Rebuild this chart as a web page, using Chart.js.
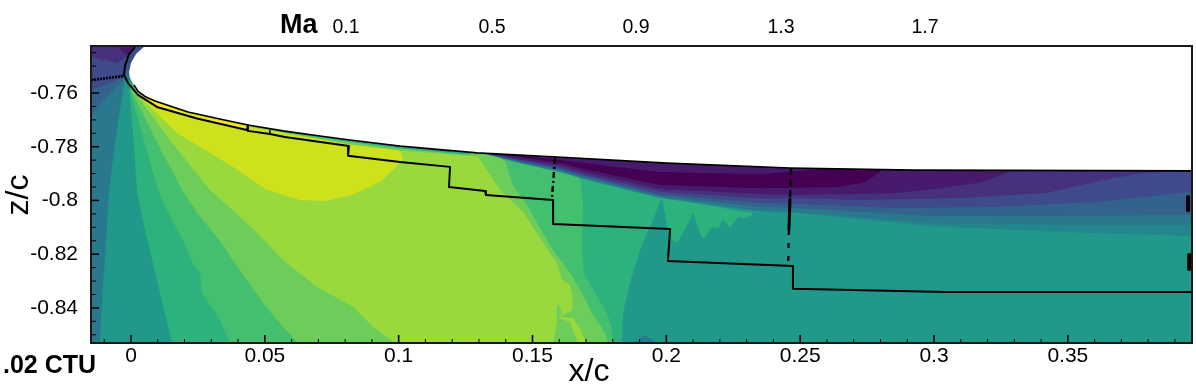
<!DOCTYPE html>
<html>
<head>
<meta charset="utf-8">
<style>
  body { margin: 0; background: #fff; }
  canvas { display: block; }
</style>
<script src="https://cdn.jsdelivr.net/npm/chart.js@4/dist/chart.umd.min.js"></script>
</head>
<body>
<canvas id="myChart" width="1196" height="384"></canvas>
<script>
// axis ranges and ticks (x/c, z/c)
const xRange = [-0.01494, 0.39638];
const zRange = [-0.85305, -0.74251];
const xMajor = [0, 0.05, 0.1, 0.15, 0.2, 0.25, 0.3, 0.35];
const xMinor = [-0.01, 0.01, 0.02, 0.03, 0.04, 0.06, 0.07, 0.08, 0.09, 0.11, 0.12, 0.13, 0.14, 0.16, 0.17, 0.18, 0.19, 0.21, 0.22, 0.23, 0.24, 0.26, 0.27, 0.28, 0.29, 0.31, 0.32, 0.33, 0.34, 0.36, 0.37, 0.38, 0.39];
const zMajor = [-0.84, -0.82, -0.8, -0.78, -0.76];
const zMinor = [-0.85, -0.845, -0.835, -0.83, -0.825, -0.815, -0.81, -0.805, -0.795, -0.79, -0.785, -0.775, -0.77, -0.765, -0.755, -0.75, -0.745];
const maLabels = ["0.1", "0.5", "0.9", "1.3", "1.7"];

// contour levels, darkest to brightest
const C0 = "#440154", C1 = "#481a6c", C2 = "#47307e", C3 = "#3f4a8a", C4 = "#33638d", C5 = "#2a788e", C5b = "#23868d";
const BASE = "#20998a", C6 = "#2db27d", C7 = "#44bf70", C8 = "#6ccd5a", C9 = "#9ad93d", C10 = "#cde11d", C11 = "#fde725";

// contour outlines, [x/c, z/c]
const fullField = [[-0.01494, -0.85305], [0.39638, -0.85305], [0.39638, -0.74251], [-0.01494, -0.74251]];
const leftTeal = [[-.0149, -.8530], [-.0116, -.8530], [-.0112, -.8434], [-.0093, -.8147], [-.0082, -.7961], [-.0060, -.7790], [-.0022, -.7540], [-.0022, -.7425], [-.0149, -.7425]];
const leftBlue = [[-.0149, -.7682], [-.0022, -.7540], [-.0022, -.7425], [-.0149, -.7425]];
const leftIndigo = [[-.0149, -.7589], [-.0022, -.7540], [-.0022, -.7425], [-.0149, -.7425]];
const leftViolet = [[-.0149, -.7425], [-.0149, -.7466], [-.0052, -.7488], [-.0011, -.7466], [.0015, -.7425]];
const leftPurple = [[-.0049, -.7425], [-.0026, -.7451], [-.0007, -.7462], [.0056, -.7425]];

const fanC6 = [[.0153, -.8530], [.0097, -.8296], [.0052, -.8110], [.0022, -.7961], [.0011, -.7790], [-.0007, -.7589], [-.0004, -.7552], [.1005, -.7797], [.1304, -.7812], [.1603, -.7879], [.1689, -.7916], [.1976, -.7987], [.2320, -.8047], [.2320, -.8054], [.2294, -.8065], [.2268, -.8061], [.2238, -.8103], [.2212, -.8069], [.2193, -.8103], [.2171, -.8099], [.2137, -.8143], [.2126, -.8121], [.2100, -.8047], [.2062, -.8121], [.2040, -.8158], [.2021, -.8147], [.2003, -.8099], [.1984, -.7991], [.1902, -.8184], [.1864, -.8307], [.1838, -.8419], [.1834, -.8530]];
const bumpC5 = [[.1875, -.8530], [.1920, -.8501], [.1965, -.8530]];
const fanC7 = [[.0370, -.8530], [.0332, -.8445], [.0265, -.8344], [.0258, -.8270], [.0228, -.8229], [.0194, -.8147], [.0134, -.8036], [.0101, -.7961], [.0052, -.7790], [-.0004, -.7589], [-.0004, -.7552], [.1005, -.7797], [.1341, -.7812], [.1397, -.7849], [.1677, -.7913], [.1689, -.8006], [.1685, -.8184], [.1692, -.8270], [.1734, -.8344], [.1778, -.8419], [.1797, -.8475], [.1801, -.8530]];
const fanC8 = [[.0624, -.8530], [.0545, -.8445], [.0493, -.8382], [.0407, -.8259], [.0321, -.8136], [.0247, -.8047], [.0191, -.7961], [.0101, -.7790], [0, -.7589], [0, -.7552], [.1005, -.7797], [.1341, -.7820], [.1397, -.7853], [.1427, -.7942], [.1479, -.8017], [.1517, -.8084], [.1577, -.8184], [.1640, -.8270], [.1685, -.8344], [.1722, -.8419], [.1771, -.8493], [.1782, -.8530]];
const fanC9 = [[.0986, -.8530], [.0904, -.8471], [.0829, -.8396], [.0695, -.8322], [.0568, -.8222], [.0471, -.8121], [.0381, -.8036], [.0295, -.7961], [.0157, -.7790], [.0007, -.7589], [.0007, -.7552], [.1005, -.7805], [.1293, -.7831], [.1379, -.7961], [.1465, -.8043], [.1558, -.8184], [.1592, -.8233], [.1610, -.8296], [.1640, -.8315], [.1651, -.8370], [.1648, -.8408], [.1603, -.8434], [.1651, -.8437], [.1677, -.8475], [.1700, -.8530]];
const notchC8 = [[.1595, -.8382], [.1610, -.8415], [.1599, -.8437], [.1640, -.8452], [.1670, -.8530], [.1577, -.8530], [.1592, -.8452], [.1588, -.8408]];
const blobC10 = [[.0015, -.7596], [.0034, -.7615], [.0172, -.7749], [.0381, -.7875], [.0508, -.7961], [.0631, -.7998], [.0725, -.8002], [.0826, -.7980], [.0930, -.7931], [.0979, -.7887], [.1016, -.7846], [.1005, -.7812], [.0631, -.7738], [.0015, -.7559]];

const stripC8 = [[.0445, -.7727], [.0818, -.7792], [.1005, -.7814], [.1293, -.7836], [.1293, -.7812], [.0445, -.7701]];
const stripC6 = [[.0575, -.7747], [.0818, -.7782], [.1005, -.7807], [.1266, -.7831], [.1266, -.7812], [.0575, -.7730]];
const stripC4 = [[.0743, -.7767], [.1005, -.7801], [.1192, -.7820], [.1192, -.7794], [.0743, -.7756]];
const stripC11 = [[.0026, -.7607], [.0097, -.7652], [.0247, -.7695], [.0433, -.7738], [.0437, -.7727], [.0332, -.7704], [.0213, -.7677], [.0146, -.7656], [.0090, -.7635], [.0056, -.7619]];

const bandC5b = [[.1266, -.7812], [.1453, -.7861], [.1603, -.7894], [.1689, -.7920], [.1976, -.7991], [.2350, -.8041], [.2484, -.8047], [.2981, -.8095], [.3482, -.8117], [.3964, -.8132], [.3964, -.7800], [.1266, -.7750]];
const bandC5 = [[.1266, -.7812], [.1453, -.7859], [.1603, -.7890], [.1689, -.7916], [.1976, -.7987], [.2350, -.8039], [.2484, -.8043], [.2981, -.8084], [.3482, -.8091], [.3964, -.8091], [.3964, -.7800], [.1266, -.7750]];
const bandC4 = [[.1266, -.7812], [.1453, -.7857], [.1603, -.7887], [.1689, -.7913], [.1976, -.7983], [.2350, -.8024], [.2484, -.8028], [.2981, -.8058], [.3482, -.8058], [.3964, -.8054], [.3964, -.7800], [.1266, -.7750]];
const bandC3 = [[.1266, -.7812], [.1453, -.7853], [.1603, -.7883], [.1689, -.7907], [.1976, -.7978], [.2350, -.8009], [.2484, -.8013], [.2858, -.8028], [.3232, -.8024], [.3605, -.8006], [.3964, -.7968], [.3964, -.7800], [.1266, -.7750]];
const bandC2 = [[.1266, -.7812], [.1453, -.7849], [.1603, -.7877], [.1689, -.7902], [.1976, -.7968], [.2350, -.7993], [.2484, -.7991], [.2735, -.7998], [.3108, -.7991], [.3418, -.7972], [.3669, -.7916], [.3792, -.7898], [.3964, -.7890], [.3964, -.7800], [.1266, -.7750]];
const bandC1 = [[.1266, -.7812], [.1453, -.7846], [.1603, -.7870], [.1689, -.7894], [.1976, -.7957], [.2350, -.7976], [.2484, -.7980], [.2858, -.7972], [.3045, -.7953], [.3183, -.7931], [.3295, -.7888], [.3295, -.7800], [.1266, -.7750]];
const bandC0 = [[.1397, -.7831], [.1453, -.7838], [.1603, -.7861], [.1689, -.7883], [.1976, -.7942], [.2350, -.7955], [.2484, -.7953], [.2645, -.7950], [.2746, -.7931], [.2809, -.7886], [.2809, -.7800], [.1397, -.7800]];
const topStripC1 = [[.1397, -.7827], [.1603, -.7849], [.1752, -.7868], [.1976, -.7894], [.2350, -.7902], [.2574, -.7884], [.2574, -.7800], [.1397, -.7800]];

const noseC3 = [[.0015, -.7429], [-.0007, -.7455], [-.0022, -.7496], [-.0026, -.7514], [-.0007, -.7514], [0, -.7488], [.0019, -.7455], [.0052, -.7425]];
const noseC4 = [[-.0026, -.7514], [-.0026, -.7533], [-.0007, -.7533], [-.0007, -.7514]];
const noseC5 = [[-.0026, -.7533], [-.0019, -.7552], [0, -.7552], [-.0007, -.7533]];
const noseBase = [[-.0019, -.7552], [-.0011, -.7563], [.0007, -.7566], [0, -.7552]];
const noseC6 = [[-.0011, -.7563], [.0004, -.7581], [.0019, -.7581], [.0007, -.7566]];
const noseC8 = [[.0004, -.7581], [.0026, -.7607], [.0041, -.7607], [.0019, -.7581]];

const wingSurface = [[.0052, -.7425], [.0019, -.7455], [0, -.7488], [-.0007, -.7522], [-.0004, -.7544], [.0011, -.7570], [.0026, -.7593], [.0056, -.7615], [.0090, -.7630], [.0146, -.7648], [.0213, -.7671], [.0332, -.7697], [.0437, -.7719], [.0568, -.7741], [.0706, -.7760], [.0818, -.7775], [.1005, -.7797], [.1293, -.7823], [.1592, -.7838], [.2003, -.7861], [.2462, -.7879], [.2922, -.7887], [.3964, -.7890]];
const wingClosure = [[.3964, -.7425]];

// black sonic line and its broken pieces
const sonicLine = [[.0015, -.7429], [-.0007, -.7455], [-.0022, -.7496], [-.0026, -.7533], [-.0011, -.7563], [.0026, -.7607], [.0097, -.7652], [.0247, -.7695], [.0433, -.7738], [.0437, -.7719], [.0437, -.7741], [.0519, -.7753], [.0575, -.7764], [.0814, -.7797], [.0811, -.7834], [.1005, -.7857], [.1192, -.7875], [.1188, -.7950], [.1323, -.7965], [.1326, -.7980], [.1577, -.7998], [.1577, -.8088], [.2014, -.8106], [.2006, -.8225], [.2473, -.8244], [.2473, -.8329], [.3045, -.8341], [.3964, -.8341]];
const smallStep = [[.0519, -.7741], [.0519, -.7753]];
const upstreamDots = [[-.0149, -.7552], [-.0030, -.7537]];
const dashMid = [[.1584, -.7842], [.1573, -.7987]];
const dashRearTop = [[.2466, -.7879], [.2462, -.7991]];
const solidRear = [[.2462, -.7991], [.2458, -.8110]];
const dashRearLow = [[.2458, -.8110], [.2455, -.8240]];
const edgeMarkTop = [[.3949, -.7987], [.3949, -.8036]];
const edgeMarkLow = [[.3953, -.8203], [.3953, -.8255]];

// paint order, background first
const regions = [
  [fullField, BASE], [leftTeal, C5], [leftBlue, C4], [leftIndigo, C3], [leftViolet, C2], [leftPurple, C1],
  [fanC6, C6], [bumpC5, C5], [fanC7, C7], [fanC8, C8], [fanC9, C9], [notchC8, C8], [blobC10, C10],
  [stripC8, C8], [stripC6, C6], [stripC4, C4],
  [bandC5b, C5b], [bandC5, C5], [bandC4, C4], [bandC3, C3], [bandC2, C2], [bandC1, C1], [bandC0, C0], [topStripC1, C1],
  [noseC3, C3], [noseC4, C4], [noseC5, C5], [noseBase, BASE], [noseC6, C6], [noseC8, C8], [stripC11, C11],
  [wingSurface.concat(wingClosure), "#ffffff"]
];

const lines = [
  [wingSurface.slice(5), 1.6, []],
  [sonicLine, 2, []],
  [smallStep, 1.6, []],
  [upstreamDots, 2.6, [2, 1]],
  [dashMid, 2.4, [6, 3, 2, 3]],
  [dashRearTop, 2.4, [7, 4]],
  [solidRear, 3, []],
  [dashRearLow, 2.4, [5, 8]],
  [edgeMarkTop, 4, []],
  [edgeMarkLow, 4, []]
];

const toPoints = pts => pts.map(p => ({ x: p[0], y: p[1] }));

const datasets = [];
regions.forEach((r, i) => {
  datasets.push({
    data: toPoints(r[0]),
    showLine: true,
    fill: "shape",
    backgroundColor: r[1],
    borderWidth: 0,
    pointRadius: 0,
    order: 100 - i
  });
});
lines.forEach(l => {
  datasets.push({
    data: toPoints(l[0]),
    showLine: true,
    fill: false,
    borderColor: "#000",
    borderWidth: l[1],
    borderDash: l[2],
    borderJoinStyle: "round",
    pointRadius: 0,
    order: 0
  });
});

// inward tick marks, frame and the loose texts
const frameAndText = {
  id: "frameAndText",
  afterDraw(chart) {
    const { ctx, chartArea: a, scales } = chart;
    ctx.save();
    ctx.strokeStyle = "#000";
    const tick = (x1, y1, x2, y2, w) => {
      ctx.lineWidth = w;
      ctx.beginPath();
      ctx.moveTo(x1, y1);
      ctx.lineTo(x2, y2);
      ctx.stroke();
    };
    xMajor.forEach(v => { const p = scales.x.getPixelForValue(v); tick(p, a.bottom, p, a.bottom - 8, 1.6); });
    xMinor.forEach(v => { const p = scales.x.getPixelForValue(v); tick(p, a.bottom, p, a.bottom - 4, 1); });
    zMajor.forEach(v => { const p = scales.y.getPixelForValue(v); tick(a.left, p, a.left + 8, p, 1.6); });
    zMinor.forEach(v => { const p = scales.y.getPixelForValue(v); tick(a.left, p, a.left + 5, p, 1); });

    ctx.lineWidth = 2;
    ctx.strokeStyle = "#1a1a1a";
    ctx.strokeRect(a.left, a.top, a.right - a.left, a.bottom - a.top);

    ctx.fillStyle = "#000";
    ctx.textBaseline = "middle";
    ctx.textAlign = "left";
    ctx.font = "bold 27px 'Liberation Sans'";
    ctx.fillText("Ma", 280, 26);
    ctx.font = "bold 25px 'Liberation Sans'";
    ctx.fillText(".02 CTU", 3, 366);

    ctx.textAlign = "center";
    ctx.font = "19.5px 'Liberation Sans'";
    const maX = [346, 492, 636, 781, 925];
    maLabels.forEach((t, i) => ctx.fillText(t, maX[i], 28));

    ctx.font = "32px 'Liberation Sans'";
    ctx.fillText("x/c", 589, 372);
    ctx.translate(19, 195);
    ctx.rotate(-Math.PI / 2);
    ctx.fillText("z/c", 0, 0);
    ctx.restore();
  }
};

new Chart(document.getElementById("myChart"), {
  type: "scatter",
  data: { datasets: datasets },
  plugins: [frameAndText],
  options: {
    responsive: false,
    animation: false,
    layout: { padding: { top: 46, right: 4, left: 0, bottom: 0 } },
    elements: { line: { tension: 0 } },
    plugins: { legend: { display: false }, tooltip: { enabled: false }, title: { display: false } },
    scales: {
      x: {
        type: "linear",
        min: xRange[0],
        max: xRange[1],
        grid: { display: false, drawTicks: false },
        border: { display: false },
        afterBuildTicks: axis => { axis.ticks = xMajor.map(v => ({ value: v })); },
        afterFit: axis => { axis.height = 41; },
        ticks: {
          autoSkip: false,
          maxRotation: 0,
          padding: 1,
          color: "#000",
          font: { family: "'Liberation Sans'", size: 21 },
          callback: v => String(v)
        }
      },
      y: {
        type: "linear",
        min: zRange[0],
        max: zRange[1],
        grid: { display: false, drawTicks: false },
        border: { display: false },
        afterBuildTicks: axis => { axis.ticks = zMajor.map(v => ({ value: v })); },
        afterFit: axis => { axis.width = 91; },
        ticks: {
          autoSkip: false,
          padding: 13,
          color: "#000",
          font: { family: "'Liberation Sans'", size: 21 },
          callback: v => String(v)
        }
      }
    }
  }
});
</script>
</body>
</html>
